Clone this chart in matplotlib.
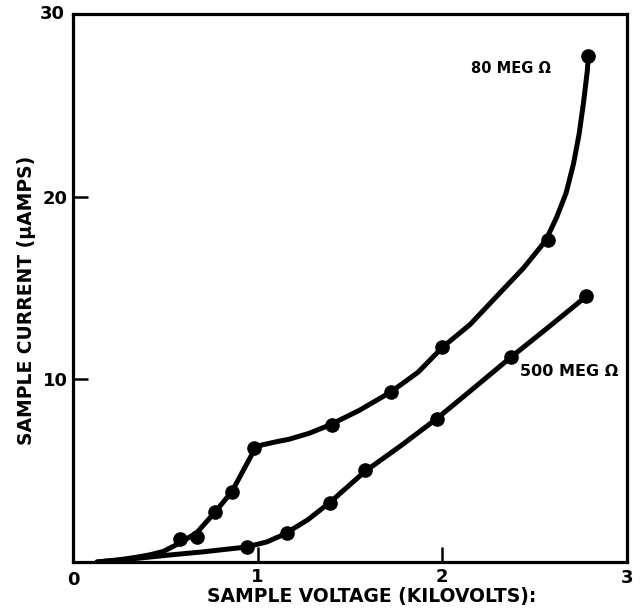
import matplotlib
matplotlib.use("Agg")
import matplotlib.pyplot as plt

plt.rcParams['font.family'] = ['DejaVu Sans']
plt.rcParams['font.weight'] = 'bold'

# measured points (kV, uA)
v80 = [0.58, 0.67, 0.77, 0.86, 0.98, 1.40, 1.72, 2.00, 2.57, 2.79]
i80 = [1.25, 1.37, 2.74, 3.85, 6.25, 7.50, 9.30, 11.75, 17.65, 27.7]
v500 = [0.94, 1.16, 1.39, 1.58, 1.97, 2.37, 2.78]
i500 = [0.80, 1.58, 3.25, 5.04, 7.85, 11.2, 14.55]

# hand-drawn curves
curve80_v = [0.13, 0.25, 0.35, 0.42, 0.49, 0.58, 0.67, 0.77, 0.86, 0.98, 1.02,
             1.10, 1.17, 1.28, 1.39, 1.55, 1.72, 1.87, 2.00, 2.15, 2.29, 2.44,
             2.56, 2.62, 2.67, 2.71, 2.74, 2.765, 2.785, 2.79]
curve80_i = [0.0, 0.12, 0.27, 0.40, 0.58, 1.05, 1.60, 2.74, 3.85, 6.10, 6.40,
             6.58, 6.72, 7.05, 7.50, 8.30, 9.30, 10.40, 11.75, 13.00, 14.50, 16.10,
             17.60, 18.90, 20.20, 21.80, 23.40, 25.20, 26.90, 27.7]
curve500_v = [0.13, 0.30, 0.52, 0.70, 0.94, 1.05, 1.14, 1.27, 1.39, 1.58,
              1.78, 1.97, 2.15, 2.37, 2.58, 2.78]
curve500_i = [0.0, 0.15, 0.38, 0.55, 0.82, 1.10, 1.50, 2.30, 3.25, 4.95,
              6.40, 7.85, 9.35, 11.20, 12.90, 14.55]

fig = plt.figure(figsize=(6.42, 6.09), dpi=100)
ax = fig.add_axes([0.1137, 0.0772, 0.863, 0.8998])

ax.plot(curve80_v, curve80_i, color='black', lw=3.6, solid_capstyle='round',
        solid_joinstyle='round')
ax.plot(curve500_v, curve500_i, color='black', lw=3.6, solid_capstyle='round',
        solid_joinstyle='round')
ax.plot(v80, i80, 'o', color='black', ms=9.5)
ax.plot(v500, i500, 'o', color='black', ms=9.5)

ax.set_xlim(0, 3)
ax.set_ylim(0, 30)
for s in ax.spines.values():
    s.set_linewidth(2.3)

ax.set_xticks([1, 2])
ax.set_yticks([10, 20])
ax.tick_params(direction='in', length=11, width=1.8, labelsize=13, pad=4)
ax.set_xticklabels(['1', '2'])
ax.set_yticklabels(['10', '20'])

# end labels drawn at the corners like the original
ax.text(0, -0.5, '0', ha='center', va='top', fontsize=13, fontweight='bold')
ax.text(3, -0.4, '3', ha='center', va='top', fontsize=13, fontweight='bold')
ax.text(-0.045, 30, '30', ha='right', va='center', fontsize=13, fontweight='bold')

ax.text(1.62, -1.35, 'SAMPLE VOLTAGE (KILOVOLTS):', ha='center', va='top',
        fontsize=13.5, fontweight='bold')
ax.text(-0.25, 14.3, 'SAMPLE CURRENT (µAMPS)', ha='center', va='center',
        rotation=90, fontsize=13.5, fontweight='bold')

ax.text(2.37, 27.0, '80 MEG Ω', ha='center', va='center', fontsize=10.5,
        fontweight='bold')
ax.text(2.42, 10.45, '500 MEG Ω', ha='left', va='center', fontsize=11.5,
        fontweight='bold')

fig.savefig('out.png', dpi=100)
